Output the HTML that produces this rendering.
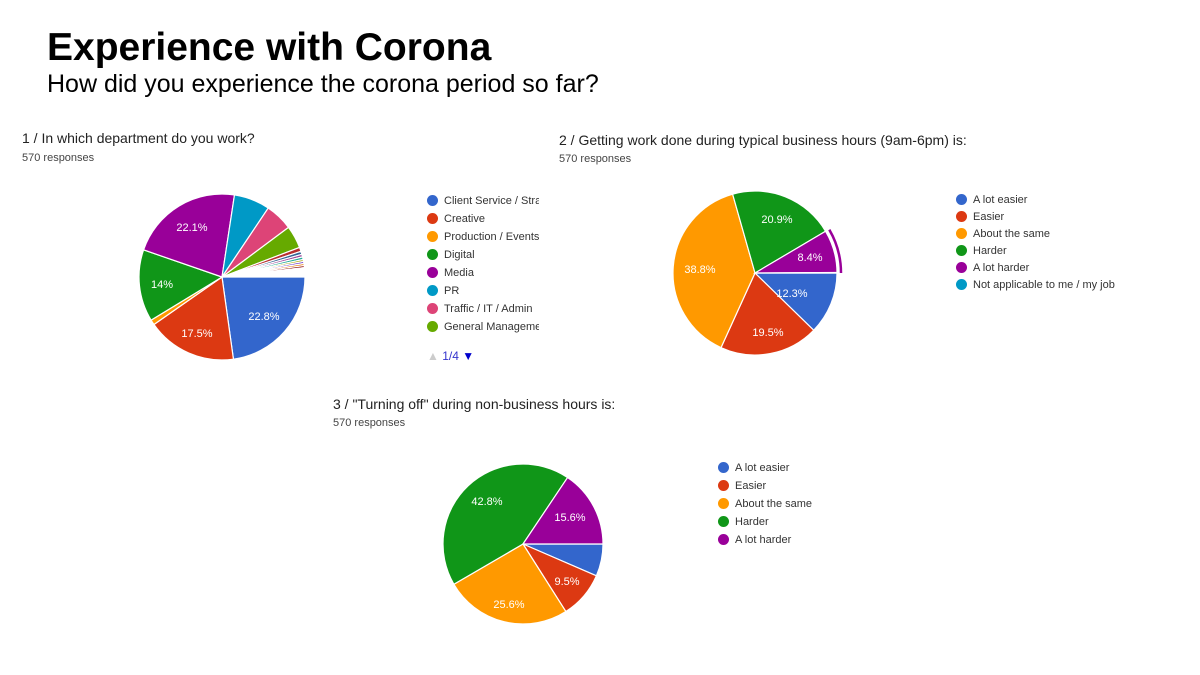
<!DOCTYPE html>
<html><head><meta charset="utf-8"><style>
body{margin:0;width:1200px;height:675px;background:#fff;overflow:hidden;position:relative;font-family:"Liberation Sans",Arial,sans-serif}
.t{position:absolute;white-space:nowrap}
.h1{left:47px;top:26px;font-size:39px;font-weight:bold;color:#000;font-family:"Liberation Sans",sans-serif}
.h2{left:47px;top:70px;font-size:25px;color:#000;font-family:"Liberation Sans",sans-serif}
.q{font-size:14px;color:#222}
.r{font-size:11px;color:#444}
.lg{font-size:11px;color:#333;white-space:nowrap}
.lg div{white-space:nowrap}
.lg i{display:inline-block;width:11px;height:11px;border-radius:50%;vertical-align:-2px;margin-right:6px}
.cl{position:absolute;overflow:hidden}
</style></head><body>
<div class="t h1">Experience with Corona</div>
<div class="t h2">How did you experience the corona period so far?</div>
<div class="t q" style="left:22px;top:130px">1 / In which department do you work?</div>
<div class="t r" style="left:22px;top:152px">570 responses</div>
<div class="t q" style="left:559px;top:132px">2 / Getting work done during typical business hours (9am-6pm) is:</div>
<div class="t r" style="left:559px;top:153px">570 responses</div>
<div class="t q" style="left:333px;top:396px">3 / "Turning off" during non-business hours is:</div>
<div class="t r" style="left:333px;top:417px">570 responses</div>
<svg id="s" width="1200" height="675" style="position:absolute;left:0;top:0"></svg>
<div class="cl lg" style="left:427px;top:192px;width:112px;line-height:18px">
<div><i style="background:#3366cc"></i>Client Service / Strategy</div>
<div><i style="background:#dc3912"></i>Creative</div>
<div><i style="background:#ff9900"></i>Production / Events</div>
<div><i style="background:#109618"></i>Digital</div>
<div><i style="background:#990099"></i>Media</div>
<div><i style="background:#0099c6"></i>PR</div>
<div><i style="background:#dd4477"></i>Traffic / IT / Admin</div>
<div><i style="background:#66aa00"></i>General Management</div>
</div>
<div class="t lg" style="left:427px;top:349px;font-size:12px"><span style="color:#ccc">▲</span> <span style="color:#3333cc">1/4</span> <span style="color:#0000cc">▼</span></div>
<div class="t lg" style="left:956px;top:192px;line-height:17px">
<div><i style="background:#3366cc"></i>A lot easier</div>
<div><i style="background:#dc3912"></i>Easier</div>
<div><i style="background:#ff9900"></i>About the same</div>
<div><i style="background:#109618"></i>Harder</div>
<div><i style="background:#990099"></i>A lot harder</div>
<div><i style="background:#0099c6"></i>Not applicable to me / my job</div>
</div>
<div class="t lg" style="left:718px;top:459px;line-height:18px">
<div><i style="background:#3366cc"></i>A lot easier</div>
<div><i style="background:#dc3912"></i>Easier</div>
<div><i style="background:#ff9900"></i>About the same</div>
<div><i style="background:#109618"></i>Harder</div>
<div><i style="background:#990099"></i>A lot harder</div>
</div>
<script>
var s=document.getElementById('s'),h='';
function pie(cx,cy,r,data){var a=0;data.forEach(function(d){var a0=a,a1=a+d[0]/100*2*Math.PI;a=a1;
var x0=cx+r*Math.cos(a0),y0=cy+r*Math.sin(a0),x1=cx+r*Math.cos(a1),y1=cy+r*Math.sin(a1);
h+='<path d="M'+cx+' '+cy+'L'+x0+' '+y0+'A'+r+' '+r+' 0 '+((a1-a0)>Math.PI?1:0)+' 1 '+x1+' '+y1+'Z" fill="'+d[1]+'" stroke="#fff" stroke-width="1.2"/>';});}
pie(222,277,83,[[22.8,'#3366cc'],[17.5,'#dc3912'],[1,'#ff9900'],[14,'#109618'],[22.1,'#990099'],[7,'#0099c6'],[5.4,'#dd4477'],[4.4,'#66aa00'],[0.8,'#b82e2e'],[0.6,'#316395'],[0.5,'#994499'],[0.5,'#22aa99'],[0.4,'#aaaa11'],[0.4,'#6633cc'],[0.4,'#e67300'],[0.4,'#8b0707'],[1.4,'#fff']]);
pie(755,273,82,[[12.3,'#3366cc'],[19.5,'#dc3912'],[38.8,'#ff9900'],[20.9,'#109618'],[8.4,'#990099'],[0.1,'#0099c6']]);
pie(523,544,80,[[6.5,'#3366cc'],[9.5,'#dc3912'],[25.6,'#ff9900'],[42.8,'#109618'],[15.6,'#990099']]);
var a0=-0.084*2*Math.PI,R=86;
h+='<path d="M'+(755+R*Math.cos(a0))+' '+(273+R*Math.sin(a0))+'A'+R+' '+R+' 0 0 1 '+(755+R)+' 273" fill="none" stroke="#990099" stroke-width="2.5"/>';
function lab(x,y,t){h+='<text x="'+x+'" y="'+y+'" fill="#fff" font-size="11" text-anchor="middle" font-family="Liberation Sans,sans-serif">'+t+'</text>';}
lab(192,231,'22.1%');lab(162,288,'14%');lab(197,337,'17.5%');lab(264,320,'22.8%');
lab(777,223,'20.9%');lab(810,261,'8.4%');lab(792,297,'12.3%');lab(700,273,'38.8%');lab(768,336,'19.5%');
lab(487,505,'42.8%');lab(570,521,'15.6%');lab(567,585,'9.5%');lab(509,608,'25.6%');
s.innerHTML=h;
</script>
</body></html>
